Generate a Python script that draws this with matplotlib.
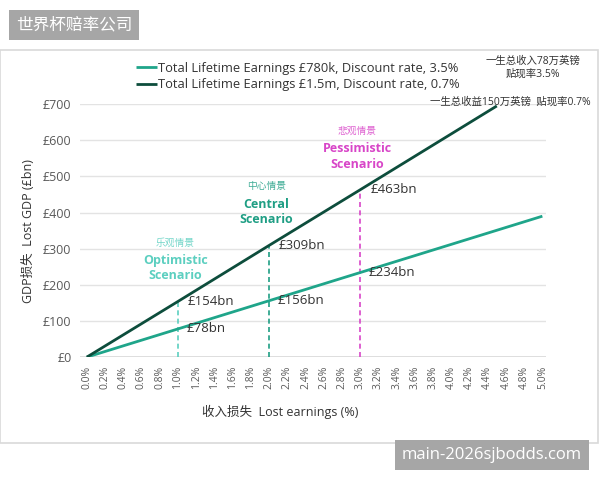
import matplotlib
matplotlib.use("Agg")
import matplotlib.pyplot as plt
from matplotlib.patches import Rectangle

plt.rcParams['font.family'] = ['Open Sans', 'Noto Sans CJK SC', 'DejaVu Sans']

# ---- data ----
x_low = [0.0, 1.0, 2.0, 3.0, 4.0, 5.0]
y_low = [0, 78, 156, 234, 312, 390]          # £780k, 3.5%
x_high = [0.0, 1.0, 2.0, 3.0, 4.5]
y_high = [0, 154, 309, 463, 695]             # £1.5m, 0.7%
scen_x = [1.0, 2.0, 3.0]
scen_top = [154, 309, 463]
scen_low = [78, 156, 234]
scen_cn = ["乐观情景", "中心情景", "悲观情景"]
scen_en = ["Optimistic\nScenario", "Central\nScenario", "Pessimistic\nScenario"]
lbl_low = ["£78bn", "£156bn", "£234bn"]
lbl_high = ["£154bn", "£309bn", "£463bn"]
xticks = [i * 0.2 for i in range(26)]
yticks = [0, 100, 200, 300, 400, 500, 600, 700]

c_low = "#1fa58a"
c_high = "#0d4d3c"
scen_colors = ["#5ccfc0", "#1f9e84", "#d846c8"]
grey = "#595959"

fig = plt.figure(figsize=(6, 4.8), dpi=100)
ax = fig.add_axes([0.133, 0.256, 0.777, 0.527])

# chart frame
fig.patches.append(Rectangle((0.0, 1 - 443 / 480), 0.997, 393 / 480, transform=fig.transFigure,
                             fill=False, edgecolor="#d9d9d9", lw=1.2))

ax.plot(x_low, y_low, color=c_low, lw=2, label="Total Lifetime Earnings £780k, Discount rate, 3.5%",
        solid_capstyle="butt", zorder=3)
ax.plot(x_high, y_high, color=c_high, lw=2, label="Total Lifetime Earnings £1.5m, Discount rate, 0.7%",
        solid_capstyle="butt", zorder=3)

for i, sx in enumerate(scen_x):
    ax.plot([sx, sx], [0, scen_top[i]], color=scen_colors[i], lw=1.2, ls=(0, (3, 2)), zorder=2)
    ax.text(sx - 0.03, scen_top[i] + 162, scen_cn[i], color=scen_colors[i], fontsize=7,
            ha="center", va="center", alpha=0.85)
    ax.text(sx - 0.03, scen_top[i] + 92, scen_en[i], color=scen_colors[i], fontsize=9,
            fontweight="bold", ha="center", va="center", linespacing=1.25)
    ax.text(sx + 0.11, scen_top[i], lbl_high[i], color="#333333", fontsize=9.5,
            ha="left", va="center")
    ax.text(sx + 0.09, scen_low[i], lbl_low[i], color="#333333", fontsize=9.5,
            ha="left", va="center")

ax.set_xlim(-0.077, 5.04)
ax.set_ylim(0, 700)
ax.set_xticks(xticks)
ax.set_xticklabels([f"{v:.1f}%" for v in xticks], rotation=90, fontsize=7.5, color=grey)
ax.set_yticks(yticks)
ax.set_yticklabels([f"£{v}" for v in yticks], fontsize=9, color=grey)
ax.tick_params(length=0, pad=6)
ax.grid(axis="y", color="#e3e3e3", lw=1)
ax.set_axisbelow(True)
for s in ax.spines.values():
    s.set_visible(False)
ax.axhline(0, color="#d9d9d9", lw=1.2, zorder=1)

ax.set_ylabel("GDP损失  Lost GDP (£bn)", fontsize=9, color="#333333", labelpad=6)
ax.set_xlabel("收入损失  Lost earnings (%)", fontsize=9, color="#333333")
ax.xaxis.set_label_coords(0.43, -0.19)

fig.legend(loc="upper left", bbox_to_anchor=(0.208, 1 - 50 / 480), frameon=False, fontsize=9.3,
           handlelength=1.6, handletextpad=0.1, labelspacing=0.3, labelcolor="#333333")

fig.text(0.888, 1 - 68 / 480, "一生总收入78万英镑\n贴现率3.5%", fontsize=7.5, ha="center", va="center",
         color="#333333", linespacing=1.2)
fig.text(0.985, 1 - 102 / 480, "一生总收益150万英镑  贴现率0.7%", fontsize=7.5, ha="right",
         va="center", color="#333333")

# watermarks
fig.text(16 / 600, 1 - 25 / 480, "世界杯赔率公司", fontsize=12, color="white", ha="left", va="center",
         bbox=dict(boxstyle="square,pad=0.4", fc="#a6a6a6", ec="none"))
fig.text(582 / 600, 1 - 455 / 480, "main-2026sjbodds.com", fontsize=12, color="white", ha="right",
         va="center", bbox=dict(boxstyle="square,pad=0.4", fc="#a6a6a6", ec="none"))

fig.savefig("out.png", dpi=100)
